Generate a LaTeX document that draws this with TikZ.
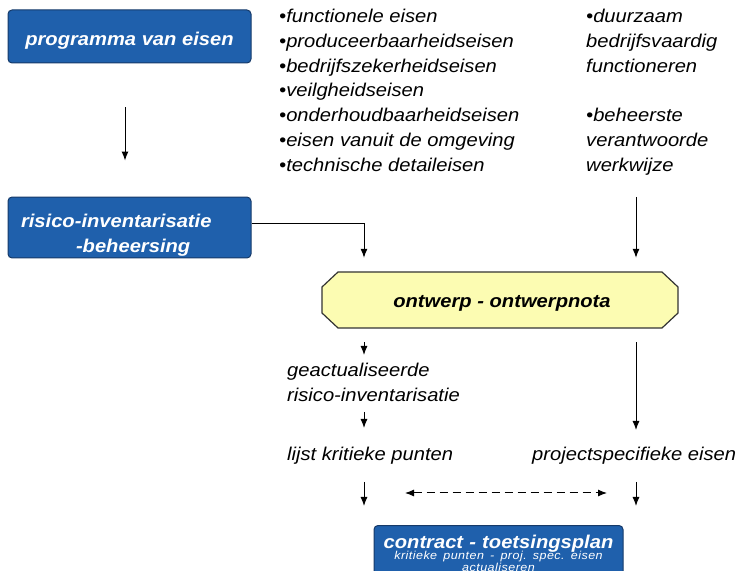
\documentclass[tikz,border=0pt]{standalone}
\usepackage{fontspec}
\setmainfont{Liberation Sans}[FakeStretch=1.09]
\usepackage{tikz}
\usetikzlibrary{arrows.meta}

\definecolor{pveblauw}{RGB}{31,96,172}
\definecolor{pverand}{RGB}{22,58,105}
\definecolor{ontwerpgeel}{RGB}{252,252,178}

\newcommand{\titel}{\fontsize{18.5}{24.9}\selectfont\bfseries\itshape}
\newcommand{\tekst}{\fontsize{18.5}{24.9}\selectfont\itshape}
\newcommand{\klein}{\fontsize{11.5}{11.5}\selectfont\mdseries\itshape\addfontfeature{LetterSpace=4}}

\begin{document}
\begin{tikzpicture}[x=1pt, y=1pt,
    blok/.style={draw=pverand, fill=pveblauw, line width=1pt, rounded corners=4pt, text=white, font=\titel},
    regel/.style={anchor=base west, inner sep=0pt, font=\tekst},
    pijl/.style={-{Latex[length=9pt,width=7pt]}, line width=1pt}]
    \useasboundingbox (0,0) rectangle (741,570);
    \clip (0,0) rectangle (741,570);

    % columns of the vertical arrows
    \coordinate (kolA) at (125,0);
    \coordinate (kolL) at (364,0);
    \coordinate (kolR) at (636,0);

    % draw boxes
    \node[blok, minimum width=243pt, minimum height=53pt, text height=19pt, text depth=0pt] (pve) at (129.5,533.5) {programma van eisen};
    \node[blok, text width=217pt, inner xsep=13pt, inner ysep=2.1pt, align=left] (ri) at (129.5,342.5) {\rule{0pt}{28pt}risico-inventarisatie\\\hspace*{55pt}-beheersing};
    % octagon of the design step
    \draw[draw=black!80, fill=ontwerpgeel, line width=1.2pt] (338,298) -- (662,298) -- (678,283) -- (678,257) -- (662,242) -- (338,242) -- (322,257) -- (322,283) -- cycle;
    \node[minimum width=356pt, minimum height=56pt, font=\titel, text height=16pt, text depth=0pt] (ontwerp) at (502,270) {ontwerp - ontwerpnota};
    \node[blok, anchor=north, text width=235pt, inner xsep=7pt, inner ysep=9.5pt, align=center] (contract) at (498.5,45) {\lineskiplimit=-20pt \frenchspacing contract - toetsingsplan\par\klein kritieke punten - proj. spec. eisen\par actualiseren\par};

    % draw requirement lists
    \foreach \t [count=\i] in {•functionele eisen, •produceerbaarheidseisen, •bedrijfszekerheidseisen, •veilgheidseisen, •onderhoudbaarheidseisen, •eisen vanuit de omgeving, •technische detaileisen}
      \node[regel] (eis-\i) at (279, {547.7-24.9*(\i-1)}) {\t};
    \foreach \i/\t in {1/•duurzaam, 2/bedrijfsvaardig, 3/functioneren, 5/•beheerste, 6/verantwoorde, 7/werkwijze}
      \node[regel] (doel-\i) at (586, {547.7-24.9*(\i-1)}) {\t};

    % draw labels
    \node[regel] (geact) at (287,193) {geactualiseerde};
    \node[regel] (geact2) at (287,168.5) {risico-inventarisatie};
    \node[regel] (lijst) at (287,109) {lijst kritieke punten};
    \node[regel] (spec) at (532,109) {projectspecifieke eisen};

    % draw arrows
    \draw[pijl, shorten <=44pt, shorten >=36pt] (pve.south -| kolA) -- (ri.north -| kolA);
    \draw[pijl, shorten >=14pt] ([yshift=3.5pt]ri.east) -| (ontwerp.north -| kolL);
    \draw[pijl, shorten <=25.3pt, shorten >=14pt] (doel-7.base -| kolR) -- (ontwerp.north -| kolR);
    \draw[pijl, shorten <=14pt, shorten >=22pt] (ontwerp.south -| kolL) -- (geact.base -| kolL);
    \draw[pijl, shorten <=10.5pt, shorten >=33pt] (geact2.base -| kolL) -- (lijst.base -| kolL);
    \draw[pijl, shorten <=14pt, shorten >=31pt] (ontwerp.south -| kolR) -- (spec.base -| kolR);
    \draw[pijl, shorten <=21pt, shorten >=19pt] (lijst.base -| kolL) -- (contract.north -| kolL);
    \draw[pijl, shorten <=21pt, shorten >=19pt] (spec.base -| kolR) -- (contract.north -| kolR);

    % dashed link between the two lists
    \coordinate (stipL) at (405,77);
    \coordinate (stipR) at (607,77);
    \draw[{Latex[length=9pt,width=7pt]}-{Latex[length=9pt,width=7pt]}, line width=1pt, dash pattern=on 8pt off 5pt] (stipL) -- (stipR);
\end{tikzpicture}
\end{document}
